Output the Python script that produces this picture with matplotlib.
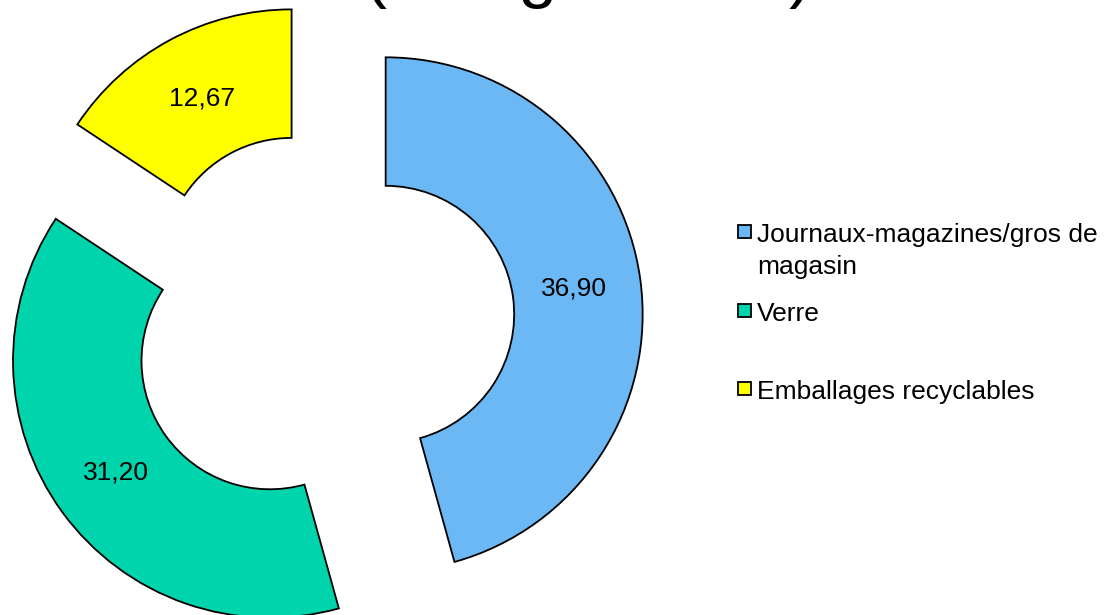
import matplotlib.pyplot as plt
from matplotlib.patches import Rectangle

plt.rcParams['font.family'] = ['Liberation Sans', 'DejaVu Sans']

categories = ['Journaux-magazines/gros de\nmagasin', 'Verre', 'Emballages recyclables']
values = [36.90, 31.20, 12.67]
colors = ['#6bb8f4', '#00d4ac', '#ffff00']
title = '(en kg/hab/an)'

W, H = 1117, 615
fig = plt.figure(figsize=(W / 100, H / 100), dpi=100)
ax = fig.add_axes([0, 0, 1, 1])

total = sum(values)


def fmt(p):
    return '{:.2f}'.format(p * total / 100).replace('.', ',')


wedges, texts, autotexts = ax.pie(
    values, colors=colors, startangle=90, counterclock=False,
    explode=[0.25, 0.25, 0.25], radius=1.0, autopct=fmt, pctdistance=0.74,
    wedgeprops=dict(width=0.5, edgecolor='black', linewidth=1.3),
    textprops=dict(fontsize=19, color='black'))

# map pie units onto the pixel layout of the reference
cx, cy, R = 322, 323, 257
ax.set_xlim(-cx / R, (W - cx) / R)
ax.set_ylim(-(H - cy) / R, cy / R)
ax.set_aspect('auto')
ax.axis('off')

# title, mostly cut off at the top edge
fig.text(588 / W, 1 + 5 / H, title, ha='center', va='baseline', fontsize=50)

# legend drawn by hand so markers sit on the first text line
legend_top = [225, 304, 382]
for lab, col, y in zip(categories, colors, legend_top):
    fig.patches.append(Rectangle((738 / W, 1 - (y + 13) / H), 13 / W, 13 / H,
                                 transform=fig.transFigure, facecolor=col,
                                 edgecolor='black', linewidth=1.3))
    fig.text(757 / W, 1 - (y - 2) / H, lab, ha='left', va='top',
             fontsize=19, linespacing=1.42)

fig.savefig('out.png', dpi=100)
